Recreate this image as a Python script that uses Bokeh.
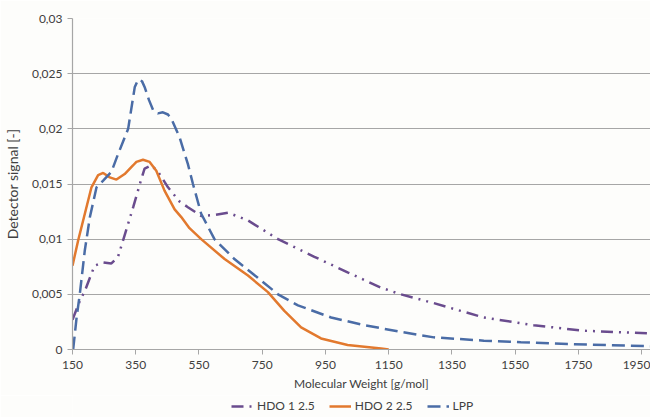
from bokeh.plotting import figure
from bokeh.layouts import column
from bokeh.models import (Range1d, FixedTicker, CustomJSTickFormatter, Legend, LegendItem)
from bokeh.embed import file_html
from bokeh.resources import INLINE

# ---- data ----
lpp_x = [152, 163, 173, 189, 205, 226, 247, 273, 294, 326, 347, 355, 362, 370, 378, 392,
         405, 420, 436, 452, 463, 489, 515, 531, 557, 599, 662, 736, 800, 863, 968, 1073,
         1189, 1293, 1451, 1568, 1716, 1978]
lpp_y = [0.0, 0.0029, 0.005, 0.009, 0.012, 0.0147, 0.0153, 0.0161, 0.0177, 0.0200, 0.0238,
         0.0243, 0.0245, 0.0243, 0.0238, 0.0226, 0.0217, 0.0214, 0.0215, 0.0213, 0.0209,
         0.0192, 0.0168, 0.0150, 0.0123, 0.0100, 0.0082, 0.0065, 0.0050, 0.0040, 0.0029,
         0.0022, 0.0016, 0.0011, 0.0008, 0.00066, 0.0005, 0.0003]

hdo2_x = [150, 168, 189, 210, 231, 247, 268, 289, 315, 342, 352, 373, 394, 415, 441, 473,
          494, 520, 557, 631, 705, 768, 820, 873, 936, 1020, 1126, 1150]
hdo2_y = [0.0076, 0.0099, 0.0123, 0.0147, 0.0158, 0.0160, 0.0156, 0.0154, 0.0159, 0.0167,
          0.0170, 0.0172, 0.0170, 0.0162, 0.0144, 0.0127, 0.0120, 0.0110, 0.0100, 0.0082,
          0.0067, 0.0052, 0.0035, 0.0020, 0.0010, 0.0004, 0.0001, 0.0]

hdo1_x = [150, 173, 189, 205, 220, 247, 273, 294, 310, 326, 342, 363, 378, 399, 421, 452,
          489, 515, 557, 600, 642, 705, 800, 915, 1020, 1126, 1189, 1293, 1451, 1609, 1767,
          1978]
hdo1_y = [0.0027, 0.0044, 0.0053, 0.0065, 0.0076, 0.0079, 0.0078, 0.0084, 0.0099, 0.0114,
          0.0129, 0.0150, 0.0164, 0.0167, 0.0161, 0.0147, 0.0134, 0.0129, 0.0121, 0.0122,
          0.0124, 0.0117, 0.0100, 0.0084, 0.0070, 0.0056, 0.0050, 0.0042, 0.0029, 0.0022,
          0.0017, 0.00145]

x_ticks = [150, 350, 550, 750, 950, 1150, 1350, 1550, 1750, 1950]
y_ticks = [0, 0.005, 0.01, 0.015, 0.02, 0.025, 0.03]
labels = ["HDO 1 2.5", "HDO 2 2.5", "LPP"]

FONT = "Lato"
TXT = "#404040"
GRID = "#A6A6A6"
BG = "#FDFDFB"
C1, C2, C3 = "#6A4C8E", "#E2792E", "#4A6CA6"
D1, D3 = "12 6 2 6 2 6", "13 6"

p = figure(width=650, height=395, output_backend="svg", toolbar_location=None,
           x_range=Range1d(150, 1978), y_range=Range1d(0, 0.03),
           min_border_left=71, min_border_right=0, min_border_top=18, min_border_bottom=46)
p.background_fill_color = BG
p.border_fill_color = BG
p.outline_line_color = None

p.xgrid.grid_line_color = None
p.ygrid.grid_line_color = GRID
p.ygrid.grid_line_width = 1.2

p.xaxis.ticker = FixedTicker(ticks=x_ticks)
p.yaxis.ticker = FixedTicker(ticks=y_ticks)
p.yaxis.formatter = CustomJSTickFormatter(code="""
    let s = tick.toFixed(3).replace(/0+$/, '').replace(/\\.$/, '');
    return s.replace('.', ',');
""")

for ax in (p.xaxis[0], p.yaxis[0]):
    ax.axis_line_color = GRID
    ax.axis_line_width = 1.2
    ax.major_tick_line_color = GRID
    ax.major_tick_in = 0
    ax.major_tick_out = 5
    ax.minor_tick_line_color = None
    ax.major_label_text_font = FONT
    ax.major_label_text_font_size = "12px"
    ax.major_label_text_color = TXT
    ax.axis_label_text_font = FONT
    ax.axis_label_text_font_style = "normal"
    ax.axis_label_text_color = TXT

p.xaxis.axis_label = "Molecular Weight [g/mol]"
p.xaxis.axis_label_text_font_size = "12px"
p.xaxis.major_label_standoff = 6
p.xaxis.axis_label_standoff = 4
p.yaxis.axis_label = "Detector signal [-]"
p.yaxis.axis_label_text_font_size = "14px"
p.yaxis.major_label_standoff = 5
p.yaxis.axis_label_standoff = 8

p.line(hdo1_x, hdo1_y, line_color=C1, line_width=2.5, line_dash=D1)
p.line(hdo2_x, hdo2_y, line_color=C2, line_width=2.5)
p.line(lpp_x, lpp_y, line_color=C3, line_width=2.5, line_dash=D3)

# legend strip below the chart; its series lie outside this strip's ranges,
# so only the legend entries are visible
lf = figure(width=650, height=22, output_backend="svg", toolbar_location=None,
            x_range=Range1d(0, 1), y_range=Range1d(1, 2),
            x_axis_location=None, y_axis_location=None,
            min_border_left=0, min_border_right=0, min_border_top=0, min_border_bottom=0)
lf.grid.visible = False
lf.outline_line_color = None
lf.background_fill_color = BG
lf.border_fill_color = BG
e1 = lf.line(hdo1_x, hdo1_y, line_color=C1, line_width=2.5, line_dash=D1)
e2 = lf.line(hdo2_x, hdo2_y, line_color=C2, line_width=2.5)
e3 = lf.line(lpp_x, lpp_y, line_color=C3, line_width=2.5, line_dash=D3)

legend = Legend(items=[LegendItem(label=labels[0], renderers=[e1]),
                       LegendItem(label=labels[1], renderers=[e2]),
                       LegendItem(label=labels[2], renderers=[e3])],
                orientation="horizontal", location=(159, 4))
legend.label_text_font = FONT
legend.label_text_font_size = "12px"
legend.label_text_color = TXT
legend.glyph_width = 22
legend.glyph_height = 12
legend.label_standoff = 4
legend.spacing = 14
legend.padding = 2
legend.margin = 0
legend.border_line_color = None
legend.background_fill_alpha = 0
lf.add_layout(legend, "center")

open("out.html", "w").write(file_html(column(p, lf, spacing=0), INLINE))
